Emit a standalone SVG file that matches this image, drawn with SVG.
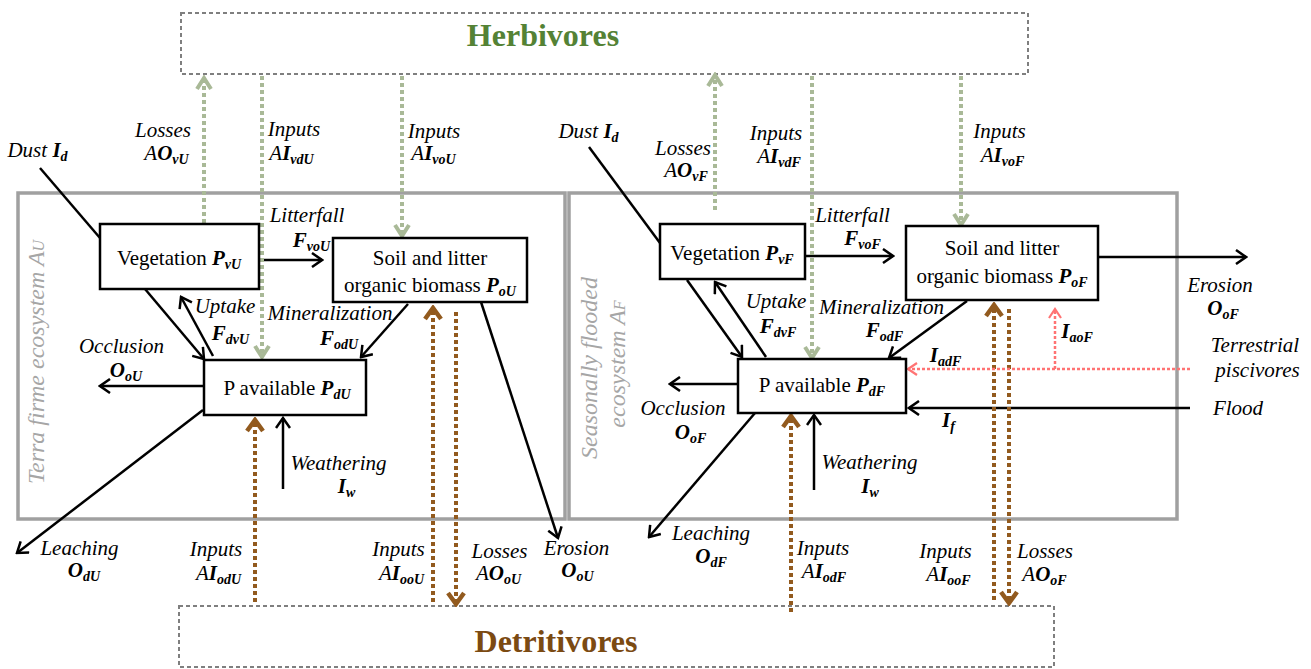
<svg xmlns="http://www.w3.org/2000/svg" width="1311" height="669" viewBox="0 0 1311 669">
<style>
text { font-family: "Liberation Serif", "Times New Roman", serif; }
.lbl { font-style: italic; font-size: 21px; fill: #000; text-anchor: middle; }
.b { font-weight: bold; }
.s { font-size: 14px; font-weight: bold; }
.nt { font-size: 21px; fill: #000; text-anchor: middle; }
.bi { font-weight: bold; font-style: italic; }
.ns { font-size: 14px; font-weight: bold; font-style: italic; }
.node rect { fill: #fff; stroke: #000; stroke-width: 2.5; }
.eco { fill: none; stroke: #A0A0A0; stroke-width: 3.5; }
.grp { fill: none; stroke: #7F7F7F; stroke-width: 2; stroke-dasharray: 4 3; }
.ecot { font-style: italic; font-size: 24px; fill: #A6A6A6; text-anchor: middle; }
.k { fill: none; stroke: #000; stroke-width: 2.5; }
.ka { fill: none; stroke: #000; stroke-width: 2.5; marker-end: url(#mk); }
.g { fill: none; stroke: #A9B997; stroke-width: 4; stroke-dasharray: 4 3; marker-end: url(#mg); }
.br { fill: none; stroke: #925A1E; stroke-width: 4; stroke-dasharray: 4 3; marker-end: url(#mb); }
.pk { fill: none; stroke: #FF7373; stroke-width: 2.5; stroke-dasharray: 3 2; marker-end: url(#mp); }
</style>
<defs>
<marker id="mk" markerUnits="userSpaceOnUse" viewBox="0 0 13 16" markerWidth="13" markerHeight="16" refX="11" refY="8" orient="auto">
<path d="M1,1 L11,8 L1,15" fill="none" stroke="#000" stroke-width="2.5"/>
</marker>
<marker id="mg" markerUnits="userSpaceOnUse" viewBox="0 0 16 18" markerWidth="16" markerHeight="18" refX="13" refY="9" orient="auto">
<path d="M2,2 L13,9 L2,16" fill="none" stroke="#A9B997" stroke-width="4"/>
</marker>
<marker id="mb" markerUnits="userSpaceOnUse" viewBox="0 0 16 20" markerWidth="16" markerHeight="20" refX="13" refY="10" orient="auto">
<path d="M2,2 L13,10 L2,18" fill="none" stroke="#925A1E" stroke-width="4.5"/>
</marker>
<marker id="mp" markerUnits="userSpaceOnUse" viewBox="0 0 12 14" markerWidth="12" markerHeight="14" refX="10" refY="7" orient="auto">
<path d="M1,1 L10,7 L1,13" fill="none" stroke="#FF7373" stroke-width="2.2"/>
</marker>
</defs>
<rect width="1311" height="669" fill="#fff"/>

<g id="herbivores">
<rect class="grp" x="181" y="13" width="847" height="61"/>
<text x="543" y="46" font-size="32" font-weight="bold" fill="#548235" text-anchor="middle">Herbivores</text>
</g>
<g id="detritivores">
<rect class="grp" x="179" y="606" width="875" height="61"/>
<text x="556" y="652" font-size="32" font-weight="bold" fill="#7B4A12" text-anchor="middle">Detritivores</text>
</g>

<g id="ecosystem-terra-firme">
<rect class="eco" x="18" y="193" width="547" height="326"/>
<text class="ecot" transform="translate(44,362) rotate(-90)">Terra firme ecosystem A<tspan font-size="16">U</tspan></text>
</g>
<g id="ecosystem-seasonally-flooded">
<rect class="eco" x="569" y="193" width="608" height="326"/>
<text class="ecot" transform="translate(597,368) rotate(-90)">Seasonally  flooded</text>
<text class="ecot" transform="translate(625,364) rotate(-90)">ecosystem A<tspan font-size="16">F</tspan></text>
</g>

<g id="connectors">
<line class="k" x1="40" y1="168" x2="100" y2="238"/>
<line class="ka" x1="145" y1="289" x2="204" y2="359"/>
<line class="ka" x1="213" y1="356" x2="181" y2="297"/>
<line class="ka" x1="259" y1="260" x2="322" y2="260"/>
<line class="ka" x1="408" y1="304" x2="361" y2="357"/>
<line class="ka" x1="203" y1="386" x2="100" y2="386"/>
<line class="ka" x1="203" y1="410" x2="17" y2="553"/>
<line class="ka" x1="283" y1="489" x2="283" y2="418"/>
<line class="ka" x1="481" y1="302" x2="558" y2="538"/>

<line class="k" x1="589" y1="147" x2="660" y2="243"/>
<line class="ka" x1="687" y1="280" x2="742" y2="357"/>
<line class="ka" x1="766" y1="357" x2="715" y2="282"/>
<line class="ka" x1="805" y1="256" x2="893" y2="256"/>
<line class="ka" x1="967" y1="301" x2="889" y2="358"/>
<line class="ka" x1="737" y1="384" x2="670" y2="384"/>
<line class="ka" x1="755" y1="413" x2="649" y2="537"/>
<line class="ka" x1="814" y1="490" x2="814" y2="415"/>
<line class="ka" x1="1190" y1="408" x2="909" y2="408"/>
<line class="ka" x1="1098" y1="257" x2="1246" y2="257"/>

<line class="g" x1="204" y1="223" x2="204" y2="78"/>
<line class="g" x1="262" y1="76" x2="262" y2="357"/>
<line class="g" x1="402" y1="76" x2="402" y2="236"/>
<line class="g" x1="715" y1="210" x2="715" y2="75"/>
<line class="g" x1="812" y1="76" x2="812" y2="358"/>
<line class="g" x1="961" y1="76" x2="961" y2="225"/>

<line class="br" x1="255" y1="602" x2="255" y2="420"/>
<line class="br" x1="433" y1="602" x2="433" y2="308"/>
<line class="br" x1="456" y1="312" x2="456" y2="604"/>
<line class="br" x1="791" y1="612" x2="791" y2="416"/>
<line class="br" x1="994" y1="600" x2="994" y2="305"/>
<line class="br" x1="1009" y1="309" x2="1009" y2="603"/>

<line class="pk" x1="1190" y1="369" x2="908" y2="369"/>
<line class="pk" x1="1055" y1="369" x2="1055" y2="309"/>
</g>

<g id="node-vegetation-U" class="node">
<rect x="100" y="224" width="159" height="65"/>
<text class="nt" x="179" y="265">Vegetation <tspan class="bi">P</tspan><tspan class="ns" dy="4">vU</tspan></text>
</g>
<g id="node-soil-U" class="node">
<rect x="333" y="238" width="194" height="64"/>
<text class="nt" x="430" y="265">Soil and litter</text>
<text class="nt" x="430" y="292">organic biomass <tspan class="bi">P</tspan><tspan class="ns" dy="4">oU</tspan></text>
</g>
<g id="node-pavail-U" class="node">
<rect x="204" y="360" width="162" height="55"/>
<text class="nt" x="287" y="395">P available <tspan class="bi">P</tspan><tspan class="ns" dy="4">dU</tspan></text>
</g>
<g id="node-vegetation-F" class="node">
<rect x="660" y="224" width="145" height="55"/>
<text class="nt" x="732" y="260">Vegetation <tspan class="bi">P</tspan><tspan class="ns" dy="4">vF</tspan></text>
</g>
<g id="node-soil-F" class="node">
<rect x="906" y="226" width="192" height="74"/>
<text class="nt" x="1002" y="255">Soil and litter</text>
<text class="nt" x="1002" y="283">organic biomass <tspan class="bi">P</tspan><tspan class="ns" dy="4">oF</tspan></text>
</g>
<g id="node-pavail-F" class="node">
<rect x="738" y="359" width="168" height="54"/>
<text class="nt" x="822" y="392">P available <tspan class="bi">P</tspan><tspan class="ns" dy="4">dF</tspan></text>
</g>

<g id="labels">
<text class="lbl" x="37.5" y="157">Dust <tspan class="b">I</tspan><tspan class="s" dy="4">d</tspan></text>
<text class="lbl" x="163" y="137">Losses</text>
<text class="lbl" x="166.5" y="160">A<tspan class="b">O</tspan><tspan class="s" dy="4">vU</tspan></text>
<text class="lbl" x="294" y="136">Inputs</text>
<text class="lbl" x="291.5" y="160">A<tspan class="b">I</tspan><tspan class="s" dy="4">vdU</tspan></text>
<text class="lbl" x="434" y="138">Inputs</text>
<text class="lbl" x="433.5" y="160">A<tspan class="b">I</tspan><tspan class="s" dy="4">voU</tspan></text>
<text class="lbl" x="307" y="222">Litterfall</text>
<text class="lbl" x="311.5" y="247"><tspan class="b">F</tspan><tspan class="s" dy="4">voU</tspan></text>
<text class="lbl" x="225" y="313">Uptake</text>
<text class="lbl" x="230.5" y="340"><tspan class="b">F</tspan><tspan class="s" dy="4">dvU</tspan></text>
<text class="lbl" x="330" y="320">Mineralization</text>
<text class="lbl" x="339" y="345"><tspan class="b">F</tspan><tspan class="s" dy="4">odU</tspan></text>
<text class="lbl" x="121.5" y="353">Occlusion</text>
<text class="lbl" x="126" y="377"><tspan class="b">O</tspan><tspan class="s" dy="4">oU</tspan></text>
<text class="lbl" x="338.5" y="470">Weathering</text>
<text class="lbl" x="346.5" y="493"><tspan class="b">I</tspan><tspan class="s" dy="4">w</tspan></text>
<text class="lbl" x="79.5" y="555">Leaching</text>
<text class="lbl" x="84" y="577"><tspan class="b">O</tspan><tspan class="s" dy="4">dU</tspan></text>
<text class="lbl" x="216" y="556">Inputs</text>
<text class="lbl" x="218.5" y="580">A<tspan class="b">I</tspan><tspan class="s" dy="4">odU</tspan></text>
<text class="lbl" x="398.5" y="556">Inputs</text>
<text class="lbl" x="401.5" y="580">A<tspan class="b">I</tspan><tspan class="s" dy="4">ooU</tspan></text>
<text class="lbl" x="499.5" y="558">Losses</text>
<text class="lbl" x="498.5" y="580">A<tspan class="b">O</tspan><tspan class="s" dy="4">oU</tspan></text>
<text class="lbl" x="576.5" y="555">Erosion</text>
<text class="lbl" x="577.5" y="577"><tspan class="b">O</tspan><tspan class="s" dy="4">oU</tspan></text>

<text class="lbl" x="588.5" y="138">Dust <tspan class="b">I</tspan><tspan class="s" dy="4">d</tspan></text>
<text class="lbl" x="683" y="155">Losses</text>
<text class="lbl" x="686" y="177">A<tspan class="b">O</tspan><tspan class="s" dy="4">vF</tspan></text>
<text class="lbl" x="776" y="140">Inputs</text>
<text class="lbl" x="779" y="163">A<tspan class="b">I</tspan><tspan class="s" dy="4">vdF</tspan></text>
<text class="lbl" x="999.5" y="138">Inputs</text>
<text class="lbl" x="1002.5" y="162">A<tspan class="b">I</tspan><tspan class="s" dy="4">voF</tspan></text>
<text class="lbl" x="852.5" y="222">Litterfall</text>
<text class="lbl" x="862.5" y="245"><tspan class="b">F</tspan><tspan class="s" dy="4">voF</tspan></text>
<text class="lbl" x="776" y="308">Uptake</text>
<text class="lbl" x="778" y="333"><tspan class="b">F</tspan><tspan class="s" dy="4">dvF</tspan></text>
<text class="lbl" x="881.5" y="314">Mineralization</text>
<text class="lbl" x="884.5" y="337"><tspan class="b">F</tspan><tspan class="s" dy="4">odF</tspan></text>
<text class="lbl" x="945.5" y="362"><tspan class="b">I</tspan><tspan class="s" dy="4">adF</tspan></text>
<text class="lbl" x="1077" y="338"><tspan class="b">I</tspan><tspan class="s" dy="4">aoF</tspan></text>
<text class="lbl" x="1220" y="292">Erosion</text>
<text class="lbl" x="1223" y="315"><tspan class="b">O</tspan><tspan class="s" dy="4">oF</tspan></text>
<text class="lbl" x="1255" y="352">Terrestrial</text>
<text class="lbl" x="1257.5" y="377">piscivores</text>
<text class="lbl" x="1238" y="415">Flood</text>
<text class="lbl" x="948.5" y="427"><tspan class="b">I</tspan><tspan class="s" dy="4">f</tspan></text>
<text class="lbl" x="683" y="415">Occlusion</text>
<text class="lbl" x="690.5" y="439"><tspan class="b">O</tspan><tspan class="s" dy="4">oF</tspan></text>
<text class="lbl" x="869.5" y="469">Weathering</text>
<text class="lbl" x="870" y="493"><tspan class="b">I</tspan><tspan class="s" dy="4">w</tspan></text>
<text class="lbl" x="711" y="540">Leaching</text>
<text class="lbl" x="711" y="563"><tspan class="b">O</tspan><tspan class="s" dy="4">dF</tspan></text>
<text class="lbl" x="823" y="555">Inputs</text>
<text class="lbl" x="824" y="578">A<tspan class="b">I</tspan><tspan class="s" dy="4">odF</tspan></text>
<text class="lbl" x="945.5" y="558">Inputs</text>
<text class="lbl" x="948.5" y="581">A<tspan class="b">I</tspan><tspan class="s" dy="4">ooF</tspan></text>
<text class="lbl" x="1045" y="558">Losses</text>
<text class="lbl" x="1044.5" y="581">A<tspan class="b">O</tspan><tspan class="s" dy="4">oF</tspan></text>
</g>
</svg>
